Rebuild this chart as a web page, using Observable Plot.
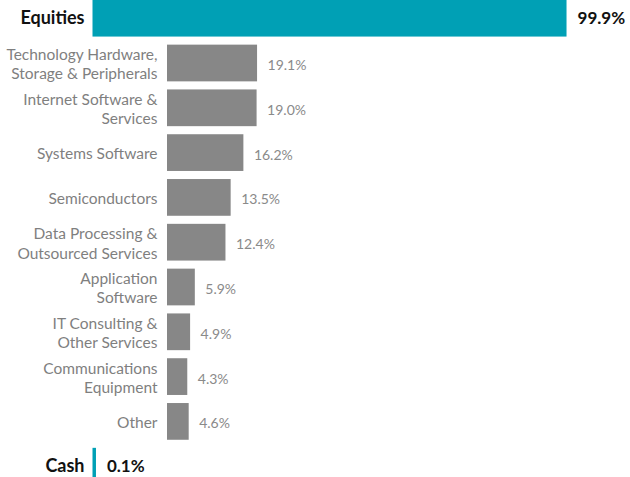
<!DOCTYPE html>
<html>
<head>
<meta charset="utf-8">
<script src="https://cdn.jsdelivr.net/npm/d3@7"></script>
<script src="https://cdn.jsdelivr.net/npm/@observablehq/plot@0.6"></script>
<style>
html, body { margin: 0; padding: 0; background: #fff; overflow: hidden; }
</style>
</head>
<body>
<div id="chart"></div>
<script>
const topCategories = ["Equities", "Cash"];
const topValues = [99.9, 0.1];
const sectorCategories = [
  "Technology Hardware,\nStorage & Peripherals",
  "Internet Software &\nServices",
  "Systems Software",
  "Semiconductors",
  "Data Processing &\nOutsourced Services",
  "Application\nSoftware",
  "IT Consulting &\nOther Services",
  "Communications\nEquipment",
  "Other"
];
const sectorValues = [19.1, 19.0, 16.2, 13.5, 12.4, 5.9, 4.9, 4.3, 4.6];

const topData = topCategories.map((c, i) => ({cat: c, value: topValues[i]}));
const sectorData = sectorCategories.map((c, i) => ({cat: c, value: sectorValues[i]}));
const rows = [topCategories[0], ...sectorCategories, topCategories[1]];

const teal = "#00a0b5";
const gray = "#878787";
const indent = 73;

const chart = Plot.plot({
  width: 630,
  height: 477,
  margin: 0,
  style: {fontFamily: "Lato, 'Open Sans', sans-serif", background: "#fff"},
  x: {domain: [0, 100], range: [94, 565.5], axis: null},
  y: {domain: rows, range: [-4.2, 488.6], paddingInner: 0.18, paddingOuter: 0.09, round: false, axis: null},
  marks: [
    Plot.barX(topData, {x: "value", y: "cat", fill: teal, insetLeft: -1.5, insetRight: -1.5}),
    Plot.text(topData, {x: 0, y: "cat", text: "cat", textAnchor: "end", dx: -10, fontWeight: "bold", fontSize: 18, fill: "#111"}),
    Plot.text(topData, {x: "value", y: "cat", text: d => d.value.toFixed(1) + "%", textAnchor: "start", dx: 12, fontWeight: "bold", fontSize: 17, fill: "#111"}),
    Plot.barX(sectorData, {x: "value", y: "cat", fill: gray, dx: indent}),
    Plot.text(sectorData, {x: 0, y: "cat", text: "cat", textAnchor: "end", dx: indent - 10, fontSize: 15.5, lineHeight: 1.25, fill: "#7f7f7f"}),
    Plot.text(sectorData, {x: "value", y: "cat", text: d => d.value.toFixed(1) + "%", textAnchor: "start", dx: indent + 10, dy: 2, fontSize: 14, fill: "#8a8a8a"})
  ]
});
document.getElementById("chart").appendChild(chart);
</script>
</body>
</html>
